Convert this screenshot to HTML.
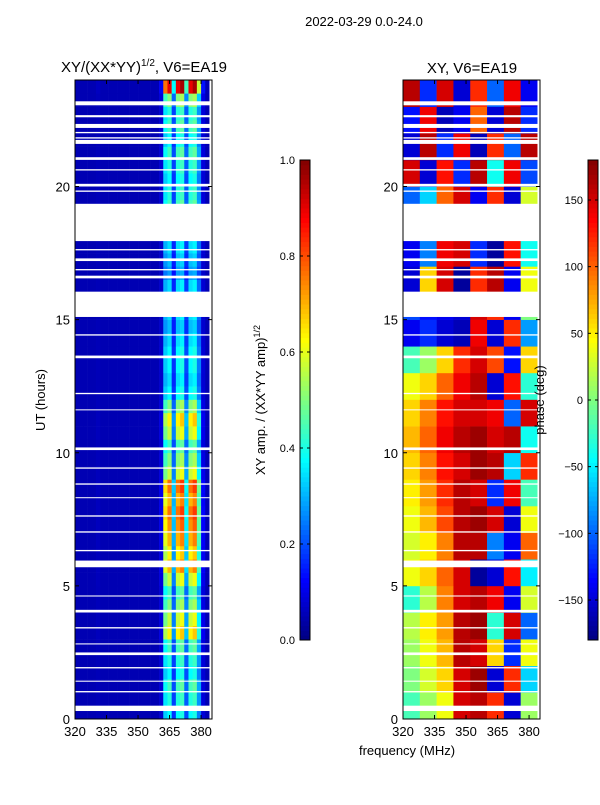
<!DOCTYPE html>
<html><head><meta charset="utf-8">
<style>
body{margin:0;background:#fff;width:600px;height:800px;overflow:hidden;font-family:"Liberation Sans",sans-serif}
svg text{font-family:"Liberation Sans",sans-serif}
</style></head>
<body>
<svg id="chart" width="600" height="800" xmlns="http://www.w3.org/2000/svg">
<text x="364" y="26" font-size="13" text-anchor="middle">2022-03-29 0.0-24.0</text>
<text x="144" y="72" font-size="15" text-anchor="middle">XY/(XX*YY)<tspan font-size="10" dy="-6">1/2</tspan><tspan dy="6">, V6=EA19</tspan></text>
<text x="472" y="73" font-size="15" text-anchor="middle">XY, V6=EA19</text>
<text transform="translate(45,400) rotate(-90)" font-size="13" text-anchor="middle">UT (hours)</text>
<text x="407" y="755" font-size="13" text-anchor="middle">frequency (MHz)</text>
<text transform="translate(265,400) rotate(-90)" font-size="13" text-anchor="middle">XY amp. / (XX*YY amp)<tspan font-size="9" dy="-5">1/2</tspan></text>
<g id="left"></g>
<g id="right"></g>
<g id="cb1"></g>
<g id="cb2"></g>
<text transform="translate(544,400) rotate(-90)" font-size="13" text-anchor="middle">phase (deg)</text>
</svg>
<script>
// ---- data ----
const freqStart = 320, freqEnd = 385.2;
const xTicks = [320, 335, 350, 365, 380];
const yTicks = [0, 5, 10, 15, 20];
const ampTicks = [0.0, 0.2, 0.4, 0.6, 0.8, 1.0];
const phaseTicks = [-150, -100, -50, 0, 50, 100, 150];
// amplitude channel profile, 2 MHz columns from 320 to 384
const ampColProfile = [0.05,0.05,0.05,0.05,0.05,0.06,0.05,0.05,0.05,0.05,0.05,0.05,0.05,0.05,0.05,0.05,0.05,0.05,0.05,0.05,0.1,0.6,0.7,0.3,0.7,0.75,0.35,0.7,0.75,0.45,0.12,0.05];
// per half-hour row factor on the bright channels (row 0 = 0h)
const ampRowFactor = [0.5,0.55,0.6,0.5,0.55,0.6,0.9,0.8,0.7,0.6,0.8,1.0,0.9,1.0,1.05,1.1,1.0,1.1,0.8,0.7,0.6,0.8,0.9,0.7,0.5,0.45,0.5,0.5,0.45,0.4,0.45,0.4,0.45,0.35,0.4,0.45,0.45,0.5,0.6,0.55,0.5,0.55,0.6,0.5,0.6,0.55,0.7,1.3];
// phase (deg), hourly rows x 8 MHz columns (320..384)
const phaseGrid = [
 [-20,10,40,150,160,120,-150,10],
 [0,30,60,150,170,-150,120,-60],
 [10,40,70,160,150,60,-120,40],
 [20,50,80,160,170,-30,150,-100],
 [-30,20,90,150,160,140,-140,30],
 [40,60,100,150,-170,-150,130,-50],
 [30,50,90,160,160,-90,-140,100],
 [40,70,110,160,170,150,-150,40],
 [50,80,120,160,150,-120,140,-20],
 [60,90,130,150,170,160,-60,120],
 [70,100,140,160,170,150,160,-40],
 [60,90,130,150,150,140,-100,150],
 [40,60,100,140,160,-150,130,-30],
 [-20,10,60,120,150,110,-130,60],
 [-140,-120,-150,-160,140,-150,120,-80],
 [-110,-130,-140,-150,150,120,-140,0],
 [-150,60,150,-170,120,160,-140,40],
 [-140,-90,140,150,-120,-170,130,-40],
 [-120,-100,120,140,-130,150,160,-60],
 [-100,-60,100,150,-140,120,-150,30],
 [150,-150,130,-120,160,-40,140,-110],
 [-150,160,-120,140,-160,120,-100,160],
 [-130,140,-160,-140,100,-150,160,-120],
 [160,-120,150,-150,120,-100,140,-140]
];
// flagged (blank) time ranges in hours
const flagged = [[17.95,19.35],[15.1,16.05],[23.05,23.2],[22.6,22.68],[22.2,22.35],[22.0,22.05],[21.8,21.85],[21.6,21.75],[21.0,21.1],[20.6,20.65],[20.0,20.1],[19.8,19.85],[17.6,17.65],[17.2,17.3],[16.85,16.9],[16.55,16.65],[13.55,13.65],[14.4,14.45],[12.2,12.25],[11.6,11.63],[10.1,10.2],[9.4,9.45],[8.8,8.85],[8.3,8.33],[7.6,7.65],[7.0,7.05],[6.3,6.35],[5.7,5.95],[4.6,4.64],[4.0,4.1],[3.4,3.45],[2.8,2.84],[2.4,2.5],[1.9,1.95],[1.4,1.44],[1.0,1.05],[0.3,0.5]];

// ---- helpers ----
const NS = "http://www.w3.org/2000/svg";
function mk(tag, attrs, parent){const e=document.createElementNS(NS,tag);for(const k in attrs)e.setAttribute(k,attrs[k]);parent.appendChild(e);return e;}
function jet(v){v=Math.max(0,Math.min(1,v));
 const r=Math.max(0,Math.min(1,1.5-Math.abs(4*v-3)));
 const g=Math.max(0,Math.min(1,1.5-Math.abs(4*v-2)));
 const b=Math.max(0,Math.min(1,1.5-Math.abs(4*v-1)));
 return `rgb(${Math.round(r*255)},${Math.round(g*255)},${Math.round(b*255)})`;}
const plotTop=80, plotBot=719;
function yScale(h){return plotBot-(h/24)*(plotBot-plotTop);}

function panel(g, x0, x1, cellFn, nCols, nRows, rowHours){
  const xs=f=>x0+(f-freqStart)/(freqEnd-freqStart)*(x1-x0);
  const colW=(384-320)/nCols;
  for(let r=0;r<nRows;r++){
    for(let c=0;c<nCols;c++){
      const fa=320+c*colW, fb=fa+colW;
      const ya=yScale((r+1)*rowHours), yb=yScale(r*rowHours);
      const rc=mk('rect',{x:xs(fa).toFixed(2),y:ya.toFixed(2),width:(xs(fb)-xs(fa)+0.3).toFixed(2),height:(yb-ya+0.3).toFixed(2),fill:cellFn(r,c)},g);
      
      
    }
  }
  const edge=mk('rect',{x:xs(384),y:plotTop,width:x1-xs(384),height:plotBot-plotTop,fill:'#fff'},g);
  
  
  for(const f of flagged){
    const ya=yScale(f[1]), yb=yScale(f[0]);
    const fr=mk('rect',{x:x0,y:ya,width:x1-x0,height:Math.max(1,yb-ya),fill:'#fff'},g);
    
    
  }
  const fr=mk('rect',{x:x0,y:plotTop,width:x1-x0,height:plotBot-plotTop,fill:'none',stroke:'#000','stroke-width':1},g);
  
  
  for(const t of xTicks){
    const x=xs(t);
    mk('line',{x1:x,x2:x,y1:plotBot,y2:plotBot-4,stroke:'#000'},g);
    mk('line',{x1:x,x2:x,y1:plotTop,y2:plotTop+4,stroke:'#000'},g);
    const tx=mk('text',{x:x,y:plotBot+17,'font-size':13,'text-anchor':'middle'},g);
    tx.textContent=t;
    
    
  }
  for(const t of yTicks){
    const y=yScale(t);
    mk('line',{x1:x0,x2:x0+4,y1:y,y2:y,stroke:'#000'},g);
    mk('line',{x1:x1,x2:x1-4,y1:y,y2:y,stroke:'#000'},g);
    const tx=mk('text',{x:x0-5,y:y+5,'font-size':13,'text-anchor':'end'},g);
    tx.textContent=t;
    
    
  }
}

function ampCell(r,c){
  const p=ampColProfile[c];
  const v=0.05+(p-0.05)*ampRowFactor[r];
  return jet(v);
}
function phaseCell(r,c){
  const v=phaseGrid[r][c];
  return jet((v+180)/360);
}
panel(document.getElementById('left'),75,212,ampCell,ampColProfile.length,ampRowFactor.length,0.5);
panel(document.getElementById('right'),403,540,phaseCell,8,phaseGrid.length,1);

function colorbar(g,x,w,top,bot,vmin,vmax,ticks,fmt){
  const n=100;
  for(let i=0;i<n;i++){
    const v0=i/n;
    const y=bot-(i+1)/n*(bot-top);
    mk('rect',{x:x,y:y.toFixed(2),width:w,height:((bot-top)/n+0.5).toFixed(2),fill:jet(v0+0.5/n)},g);
  }
  mk('rect',{x:x,y:top,width:w,height:bot-top,fill:'none',stroke:'#000'},g);
  for(const t of ticks){
    const y=bot-(t-vmin)/(vmax-vmin)*(bot-top);
    mk('line',{x1:x,x2:x+3,y1:y,y2:y,stroke:'#000'},g);
    mk('line',{x1:x+w,x2:x+w-3,y1:y,y2:y,stroke:'#000'},g);
    const tx=mk('text',{x:x-5,y:y+4,'font-size':11,'text-anchor':'end'},g);
    tx.textContent=fmt(t);
    
    
  }
}
colorbar(document.getElementById('cb1'),300,10,160,640,0,1,ampTicks,t=>t.toFixed(1));
colorbar(document.getElementById('cb2'),588,10,160,640,-180,180,phaseTicks,t=>t<0?'\u2212'+(-t):String(t));
</script>
</body></html>
